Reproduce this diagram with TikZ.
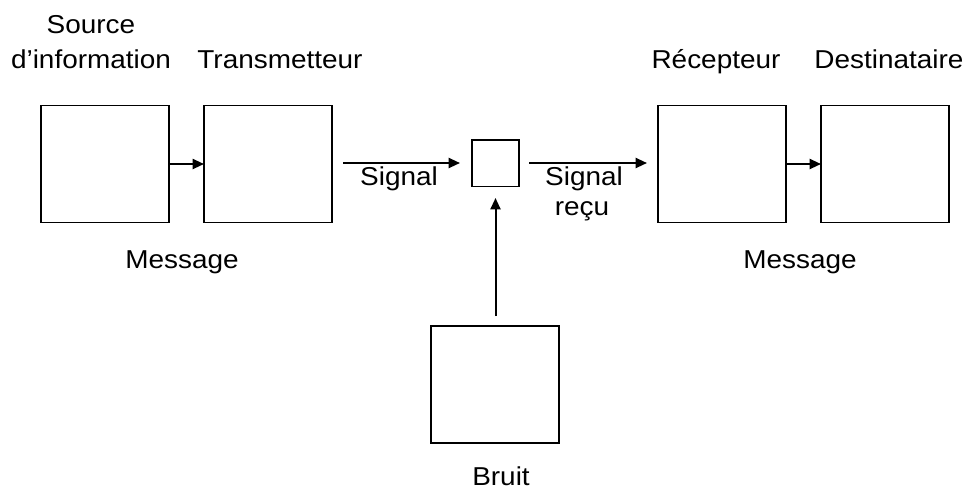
\documentclass[tikz,border=0pt]{standalone}
\usepackage{fontspec}
\setmainfont{Liberation Sans}[FakeStretch=1.08]
\usetikzlibrary{arrows.meta}
\begin{document}
\begin{tikzpicture}[x=0.75pt,y=-0.75pt,
  blk/.style={draw,line width=1pt,inner sep=0pt,outer sep=0pt,anchor=north west,minimum width=96pt,minimum height=87.75pt},
  tiny/.style={draw,line width=1pt,inner sep=0pt,outer sep=0pt,anchor=north west,minimum width=35.25pt,minimum height=35pt},
  lbl/.style={anchor=base,inner sep=0pt,font=\fontsize{19.4}{22.5}\selectfont,align=center},
  arr/.style={line width=1.5pt,-{Triangle[length=8.5pt,width=7.5pt]}}]
\useasboundingbox (0,0) rectangle (963,490);
\node[blk] (src) at (41,105.5) {};
\node[blk] (tx) at (204,105.5) {};
\node[tiny] (ch) at (472,140) {};
\node[blk] (rx) at (658,105.5) {};
\node[blk] (dst) at (821,105.5) {};
\node[blk] (noise) at (431,326) {};
\coordinate (s1a) at (343,163);
\coordinate (s1b) at (460,163);
\coordinate (s2a) at (529,163);
\coordinate (s2b) at (647,163);
\coordinate (na) at (495.5,316);
\coordinate (nb) at (495.5,198);
\draw[arr] (src.east) -- (tx.west);
\draw[arr] (s1a) -- (s1b);
\draw[arr] (s2a) -- (s2b);
\draw[arr] (rx.east) -- (dst.west);
\draw[arr] (na) -- (nb);
\node[lbl] (t1) at (91,33) {Source};
\node[lbl] (t2) at (91,68) {d’information};
\node[lbl] (t3) at (280,68) {Transmetteur};
\node[lbl] (t4) at (716,68) {Récepteur};
\node[lbl] (t5) at (889,68) {Destinataire};
\node[lbl] (t6) at (399,185) {Signal};
\node[lbl] (t7) at (584,185) {Signal};
\node[lbl] (t8) at (582,215) {reçu};
\node[lbl] (t9) at (182,268) {Message};
\node[lbl] (t10) at (800,268) {Message};
\node[lbl] (t11) at (501,485) {Bruit};
\end{tikzpicture}
\end{document}
